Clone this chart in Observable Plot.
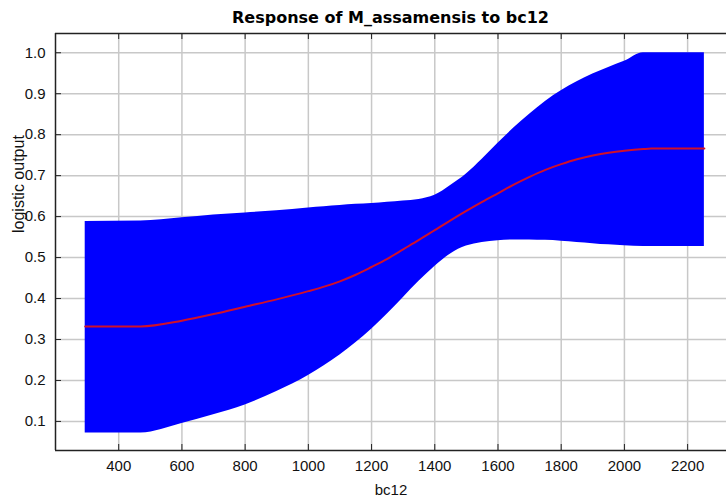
<!DOCTYPE html>
<html><head><meta charset="utf-8">
<script src="https://cdn.jsdelivr.net/npm/d3@7"></script>
<script src="https://cdn.jsdelivr.net/npm/@observablehq/plot@0.6"></script>
<style>
body{margin:0;background:#fff;}
#wrap{position:relative;width:726px;height:499px;overflow:hidden;}
#title{position:absolute;left:55px;width:671px;top:8px;text-align:center;font:bold 16px "DejaVu Sans";line-height:20px;color:#000;}
#chart{position:absolute;left:0;top:0;}
</style></head><body>
<div id="wrap"><div id="chart"></div><div id="title">Response of M_assamensis to bc12</div></div>
<script>
const bc12 = [294, 470, 600, 700, 800, 900, 1000, 1050, 1100, 1150, 1200, 1250, 1300, 1350, 1400, 1450, 1500, 1550, 1600, 1650, 1700, 1750, 1800, 1850, 1900, 1950, 2000, 2060, 2085, 2253];
const meanOut = [0.332, 0.332, 0.346, 0.362, 0.380, 0.398, 0.418, 0.429, 0.442, 0.458, 0.477, 0.497, 0.520, 0.543, 0.567, 0.591, 0.614, 0.636, 0.657, 0.678, 0.697, 0.714, 0.728, 0.740, 0.749, 0.756, 0.761, 0.765, 0.766, 0.766];
const upperOut = [0.588, 0.589, 0.597, 0.604, 0.609, 0.614, 0.621, 0.624, 0.627, 0.630, 0.632, 0.635, 0.638, 0.642, 0.652, 0.676, 0.704, 0.740, 0.779, 0.816, 0.850, 0.881, 0.907, 0.929, 0.948, 0.964, 0.979, 1.0, 1.0, 1.0];
const lowerOut = [0.072, 0.072, 0.095, 0.116, 0.140, 0.173, 0.212, 0.236, 0.262, 0.292, 0.325, 0.362, 0.402, 0.442, 0.478, 0.509, 0.528, 0.537, 0.541, 0.543, 0.543, 0.542, 0.540, 0.537, 0.534, 0.531, 0.529, 0.527, 0.527, 0.527];
const xTicks = [400, 600, 800, 1000, 1200, 1400, 1600, 1800, 2000, 2200];
const yTicks = [0.1, 0.2, 0.3, 0.4, 0.5, 0.6, 0.7, 0.8, 0.9, 1.0];

const data = bc12.map((x, i) => ({x, mean: meanOut[i], lo: lowerOut[i], hi: upperOut[i]}));
const xDomain = [200, 2323], yDomain = [0.029, 1.047];
const W = 726, H = 499, mL = 55, mR = 0, mT = 33, mB = 49;
const innerH = H - mT - mB, innerW = W - mL - mR;
const ink = "#222";

const chart = Plot.plot({
  width: W, height: H, marginLeft: mL, marginRight: mR, marginTop: mT, marginBottom: mB,
  style: {fontFamily: "Liberation Sans", fontSize: "15px", color: "#111", background: "#fff"},
  x: {domain: xDomain},
  y: {domain: yDomain},
  marks: [
    Plot.gridX(xTicks, {stroke: "#c8c8c8", strokeOpacity: 1, strokeWidth: 1.5}),
    Plot.gridY(yTicks, {stroke: "#c8c8c8", strokeOpacity: 1, strokeWidth: 1.5}),
    Plot.areaY(data, {x: "x", y1: "lo", y2: "hi", fill: "#0000ff", curve: "monotone-x"}),
    Plot.lineY(data, {x: "x", y: "mean", stroke: "#d0102a", strokeWidth: 2, curve: "monotone-x"}),
    Plot.tickX(xTicks, {x: d => d, stroke: ink, insetTop: innerH - 6}),
    Plot.tickX(xTicks, {x: d => d, stroke: ink, insetBottom: innerH - 6}),
    Plot.tickY(yTicks, {y: d => d, stroke: ink, insetRight: innerW - 6}),
    Plot.ruleX([xDomain[0]], {stroke: ink, strokeWidth: 1.5}),
    Plot.ruleY([yDomain[0], yDomain[1]], {stroke: ink, strokeWidth: 1.5}),
    Plot.axisX(xTicks, {tickSize: 0, tickPadding: 10, tickFormat: "d", label: "bc12", labelAnchor: "center", labelOffset: 44, labelArrow: "none"}),
    Plot.axisY(yTicks, {tickSize: 0, tickPadding: 10, tickFormat: ".1f", label: null}),
    Plot.text(["logistic output"], {text: d => d, frameAnchor: "left", rotate: -90, dx: -37, dy: -9, fontSize: 16, fill: "#111"})
  ]
});
document.getElementById("chart").append(chart);
</script>
</body></html>
